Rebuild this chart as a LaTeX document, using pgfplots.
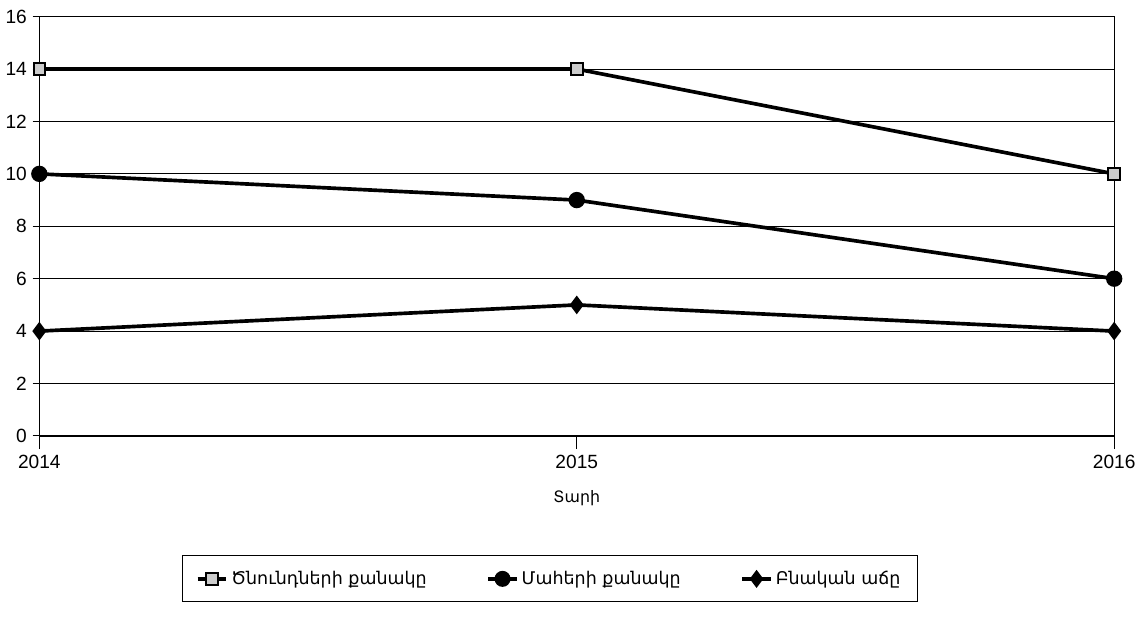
\documentclass[border=0pt]{standalone}
\usepackage{pgfplots}
\pgfplotsset{compat=1.18}
\usepackage{fontspec}
\setmainfont{Liberation Sans}
\newfontfamily\armfont{DejaVu Sans}
\begin{document}
\begin{tikzpicture}
\begin{axis}[
  scale only axis, width=646pt, height=252pt,
  xmin=2014, xmax=2016, ymin=0, ymax=16,
  xtick={2014,2015,2016}, xticklabels={2014,2015,2016},
  ytick={0,2,4,6,8,10,12,14,16},
  xtick pos=bottom, ytick pos=left,
  ymajorgrids, grid style={black, line width=0.6pt},
  axis line style={black, line width=0.8pt},
  tick style={black, line width=0.6pt},
  xtick align=outside, ytick align=center,
  major tick length=8pt,
  tick label style={font=\fontsize{11.5}{13}\selectfont},
  /pgf/number format/assume math mode=true,
  xlabel={\armfont Տարի},
  xlabel style={font=\fontsize{9.5}{11}\selectfont, yshift=-6pt},
  legend style={at={(0.475,-0.285)}, anchor=north, legend columns=3,
    draw=black, line width=0.6pt, font=\armfont\fontsize{10.5}{12}\selectfont,
    inner xsep=8pt, inner ysep=7pt,
    /tikz/every even column/.append style={column sep=34pt}},
  legend image post style={line width=2pt},
  every axis plot/.append style={black, line width=2.2pt},
]
\addplot[mark=square*, mark size=3.5pt, mark options={fill=gray!40, line width=1.2pt}] coordinates {(2014,14) (2015,14) (2016,10)};
\addlegendentry{Ծնունդների քանակը}
\addplot[mark=*, mark size=3.8pt] coordinates {(2014,10) (2015,9) (2016,6)};
\addlegendentry{Մահերի քանակը}
\addplot[mark=diamond*, mark size=3.8pt] coordinates {(2014,4) (2015,5) (2016,4)};
\addlegendentry{Բնական աճը}
\end{axis}
\path (current axis.north west) ++(0,10pt) coordinate (bbtop);
\path (current axis.south west) ++(0,-110pt) coordinate (bbbot);
\useasboundingbox (current bounding box.south west) rectangle (current bounding box.north east);
\path (bbtop) -- (bbbot);
\end{tikzpicture}
\end{document}
